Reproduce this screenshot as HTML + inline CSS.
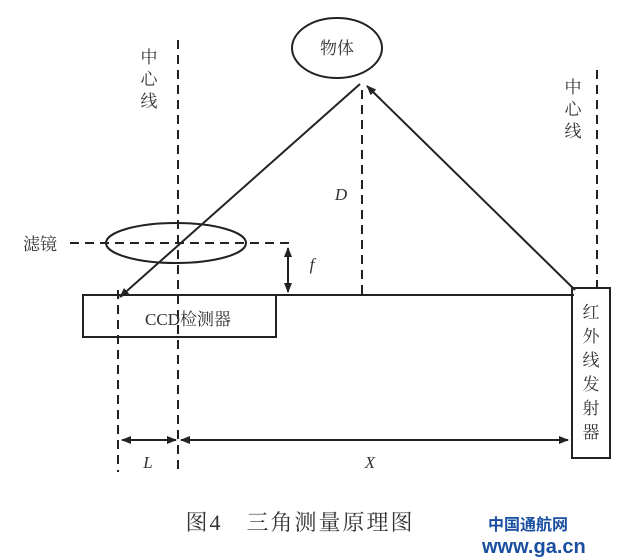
<!DOCTYPE html><html><head><meta charset="utf-8"><style>body{margin:0;background:#fff}svg{display:block}</style></head><body>
<svg width="640" height="560" viewBox="0 0 640 560" font-family="'Liberation Serif','Noto Serif CJK SC',serif">
<defs><marker id="a" markerWidth="10" markerHeight="10" refX="9" refY="5" orient="auto-start-reverse" markerUnits="userSpaceOnUse"><path d="M0,1 L10,5 L0,9 Z" fill="#222"/></marker></defs>
<g stroke="#222" stroke-width="2" fill="none">
<ellipse cx="337" cy="48" rx="45" ry="30"/>
<line x1="178" y1="40" x2="178" y2="472" stroke-dasharray="9,6"/>
<line x1="597" y1="70" x2="597" y2="290" stroke-dasharray="9,6"/>
<ellipse cx="176" cy="243" rx="70" ry="20"/>
<line x1="70" y1="243" x2="292" y2="243" stroke-dasharray="9,6"/>
<line x1="288" y1="248" x2="288" y2="292" marker-end="url(#a)" marker-start="url(#a)"/>
<line x1="275" y1="295" x2="574" y2="295"/>
<rect x="83" y="295" width="193" height="42"/>
<line x1="118" y1="290" x2="118" y2="472" stroke-dasharray="9,6"/>
<rect x="572" y="288" width="38" height="170"/>
<line x1="362" y1="90" x2="362" y2="295" stroke-dasharray="9,6"/>
<line x1="575" y1="290" x2="367" y2="86" marker-end="url(#a)"/>
<line x1="360" y1="84" x2="120" y2="297" marker-end="url(#a)"/>
<line x1="122" y1="440" x2="176" y2="440" marker-end="url(#a)" marker-start="url(#a)"/>
<line x1="181" y1="440" x2="568" y2="440" marker-end="url(#a)" marker-start="url(#a)"/>
</g>
<g fill="#333" font-size="17" text-anchor="middle">
<text x="337" y="54">物体</text>
<text x="149" y="63">中</text><text x="149" y="85">心</text><text x="149" y="107">线</text>
<text x="573" y="93">中</text><text x="573" y="115">心</text><text x="573" y="137">线</text>
<text x="40" y="250">滤镜</text>
<text x="188" y="325">CCD检测器</text>
<text x="591" y="318">红</text><text x="591" y="342">外</text><text x="591" y="366">线</text><text x="591" y="390">发</text><text x="591" y="414">射</text><text x="591" y="438">器</text>
<text x="341" y="200" font-style="italic">D</text>
<text x="312" y="270" font-style="italic">f</text>
<text x="148" y="468" font-style="italic">L</text>
<text x="370" y="468" font-style="italic">X</text>
<text x="300" y="530" font-size="22" letter-spacing="2">图4　三角测量原理图</text>
</g>
<g font-family="'Liberation Sans','Noto Sans CJK SC',sans-serif" font-weight="bold" fill="#1a4fa0">
<text x="488" y="530" font-size="16">中国通航网</text>
<text x="482" y="553" font-size="20">www.ga.cn</text>
</g>
</svg></body></html>
